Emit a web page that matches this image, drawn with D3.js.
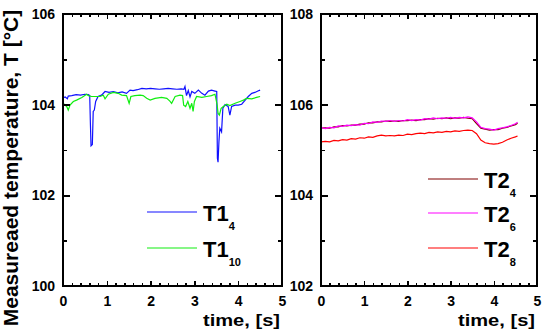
<!DOCTYPE html>
<html>
<head>
<meta charset="utf-8">
<script src="https://cdn.jsdelivr.net/npm/d3@7/dist/d3.min.js"></script>
<style>
  html, body { margin: 0; padding: 0; background: #fff; }
  svg { display: block; }
  text { font-family: "Liberation Sans", Arial, sans-serif; font-weight: bold; fill: #000; }
</style>
</head>
<body>
<svg id="chart" width="546" height="334"></svg>
<script>
// ---- Left panel: T1 sensors ----
const t14Time = [0, 0.05, 0.1, 0.12, 0.2, 0.3, 0.4, 0.5, 0.58, 0.61, 0.625, 0.64, 0.67, 0.69, 0.715, 0.746, 0.8, 0.88, 0.96, 1.05, 1.15, 1.25, 1.35, 1.45, 1.53, 1.6, 1.7, 1.8, 1.9, 2.0, 2.1, 2.2, 2.3, 2.4, 2.5, 2.6, 2.7, 2.76, 2.785, 2.82, 2.86, 2.9, 2.94, 3.01, 3.09, 3.17, 3.24, 3.32, 3.39, 3.47, 3.51, 3.525, 3.54, 3.56, 3.58, 3.62, 3.65, 3.70, 3.77, 3.81, 3.85, 3.93, 4.0, 4.08, 4.16, 4.23, 4.31, 4.38, 4.45, 4.5];
const t14Temp = [104.15, 104.17, 104.13, 104.19, 104.2, 104.22, 104.21, 104.23, 104.22, 104.2, 103.6, 103.09, 103.12, 103.85, 103.88, 104.07, 104.18, 104.21, 104.29, 104.27, 104.29, 104.26, 104.28, 104.25, 104.32, 104.31, 104.33, 104.36, 104.35, 104.36, 104.35, 104.34, 104.35, 104.36, 104.35, 104.34, 104.35, 104.34, 104.40, 104.20, 104.31, 104.17, 104.29, 104.25, 104.32, 104.25, 104.21, 104.30, 104.32, 104.30, 104.29, 102.82, 102.73, 103.18, 103.48, 103.40, 103.92, 104.00, 103.96, 103.77, 103.96, 103.99, 103.99, 104.01, 104.10, 104.18, 104.25, 104.27, 104.30, 104.32];

const t110Time = [0, 0.084, 0.12, 0.16, 0.236, 0.31, 0.43, 0.54, 0.58, 0.65, 0.73, 0.845, 0.92, 0.96, 1.035, 1.15, 1.26, 1.34, 1.45, 1.51, 1.55, 1.64, 1.76, 1.83, 1.91, 1.99, 2.1, 2.25, 2.37, 2.44, 2.48, 2.56, 2.67, 2.73, 2.755, 2.8, 2.85, 2.9, 2.94, 2.97, 3.0, 3.05, 3.17, 3.28, 3.39, 3.47, 3.52, 3.54, 3.57, 3.61, 3.66, 3.74, 3.81, 3.93, 4.04, 4.12, 4.19, 4.31, 4.42, 4.5];
const t110Temp = [104.03, 103.96, 103.88, 103.99, 104.07, 104.10, 104.16, 104.23, 104.20, 104.18, 104.18, 104.18, 104.21, 104.13, 104.23, 104.27, 104.25, 104.21, 104.20, 104.03, 104.18, 104.20, 104.21, 104.20, 104.14, 104.10, 104.14, 104.16, 104.14, 104.08, 104.03, 104.18, 104.21, 104.20, 103.99, 103.96, 104.07, 103.92, 104.03, 103.85, 104.07, 104.18, 104.16, 104.18, 104.20, 104.23, 103.99, 103.81, 103.77, 103.92, 103.96, 104.01, 103.98, 104.03, 104.07, 104.10, 104.14, 104.13, 104.16, 104.18];

// ---- Right panel: T2 sensors (common sampling) ----
const t2Time = [0, 0.1, 0.2, 0.3, 0.4, 0.5, 0.6, 0.7, 0.8, 0.9, 1.0, 1.1, 1.2, 1.3, 1.4, 1.5, 1.6, 1.7, 1.8, 1.9, 2.0, 2.1, 2.2, 2.3, 2.4, 2.5, 2.6, 2.7, 2.8, 2.9, 3.0, 3.1, 3.2, 3.3, 3.4, 3.5, 3.6, 3.7, 3.8, 3.9, 4.0, 4.1, 4.2, 4.3, 4.4, 4.5, 4.55];
const t24Temp = [105.49, 105.49, 105.48, 105.51, 105.51, 105.54, 105.53, 105.55, 105.55, 105.57, 105.57, 105.60, 105.60, 105.62, 105.62, 105.64, 105.63, 105.64, 105.63, 105.65, 105.65, 105.66, 105.65, 105.67, 105.67, 105.69, 105.68, 105.70, 105.69, 105.71, 105.69, 105.71, 105.70, 105.72, 105.70, 105.69, 105.58, 105.48, 105.46, 105.44, 105.45, 105.45, 105.48, 105.50, 105.53, 105.56, 105.59];
const t26Temp = [105.50, 105.47, 105.50, 105.49, 105.53, 105.52, 105.55, 105.54, 105.56, 105.55, 105.59, 105.58, 105.62, 105.61, 105.64, 105.63, 105.65, 105.63, 105.65, 105.64, 105.67, 105.65, 105.67, 105.66, 105.69, 105.68, 105.71, 105.69, 105.71, 105.70, 105.72, 105.70, 105.72, 105.71, 105.73, 105.71, 105.62, 105.50, 105.47, 105.46, 105.44, 105.47, 105.49, 105.51, 105.54, 105.58, 105.61];
const t28Temp = [105.18, 105.19, 105.18, 105.21, 105.20, 105.23, 105.22, 105.25, 105.24, 105.27, 105.26, 105.29, 105.28, 105.31, 105.33, 105.31, 105.32, 105.31, 105.33, 105.32, 105.35, 105.34, 105.36, 105.37, 105.36, 105.39, 105.38, 105.40, 105.39, 105.41, 105.40, 105.42, 105.41, 105.43, 105.44, 105.43, 105.36, 105.22, 105.16, 105.14, 105.13, 105.14, 105.17, 105.22, 105.26, 105.29, 105.31];

// ---- Axis ticks and labels ----
const xMajor = [0, 1, 2, 3, 4, 5];
const xMinor = [0.2, 0.4, 0.6, 0.8, 1.2, 1.4, 1.6, 1.8, 2.2, 2.4, 2.6, 2.8, 3.2, 3.4, 3.6, 3.8, 4.2, 4.4, 4.6, 4.8];
const yLeftMajor = [100, 102, 104, 106];
const yLeftMinor = [101, 103, 105];
const yRightMajor = [102, 104, 106, 108];
const yRightMinor = [103, 105, 107];

const xTitle = "time, [s]";
const yTitle = "Measureaed temperature, T [°C]";

// Legend entries: base name and subscript
const leftNames = [["T1", "4"], ["T1", "10"]];
const rightNames = [["T2", "4"], ["T2", "6"], ["T2", "8"]];
const leftColors = ["#1010ff", "#10ee10"];
const rightColors = ["#800000", "#ff00ff", "#ff0000"];

const svg = d3.select("#chart");

function panel(opts) {
  const { x0, x1, y0, y1, yDomain, yMajor, yMinor, series, names, colors, legend } = opts;
  const g = svg.append("g");
  const x = d3.scaleLinear().domain([0, 5]).range([x0, x1]);
  const y = d3.scaleLinear().domain(yDomain).range([y1, y0]);

  // data lines
  const line = d3.line().x(d => x(d[0])).y(d => y(d[1]));
  series.forEach((s, i) => {
    const pts = s.time.map((t, k) => [t, s.temp[k]]);
    g.append("path").datum(pts)
      .attr("d", line)
      .attr("fill", "none")
      .attr("stroke", colors[i])
      .attr("stroke-width", 1.2);
  });

  // axes: bottom with labels, inward ticks on all four sides
  g.append("g").attr("transform", `translate(0,${y1})`)
    .call(d3.axisBottom(x).tickValues(xMajor).tickSize(-5).tickPadding(10).tickFormat(d3.format("d")));
  g.append("g").attr("transform", `translate(0,${y1})`)
    .call(d3.axisBottom(x).tickValues(xMinor).tickSize(-3).tickFormat(""));
  g.append("g").attr("transform", `translate(0,${y0})`)
    .call(d3.axisTop(x).tickValues(xMajor).tickSize(-5).tickFormat(""));
  g.append("g").attr("transform", `translate(0,${y0})`)
    .call(d3.axisTop(x).tickValues(xMinor).tickSize(-3).tickFormat(""));
  g.append("g").attr("transform", `translate(${x0},0)`)
    .call(d3.axisLeft(y).tickValues(yMajor).tickSize(-7).tickPadding(8).tickFormat(d3.format("d")));
  g.append("g").attr("transform", `translate(${x0},0)`)
    .call(d3.axisLeft(y).tickValues(yMinor).tickSize(-4).tickFormat(""));
  g.append("g").attr("transform", `translate(${x1},0)`)
    .call(d3.axisRight(y).tickValues(yMajor).tickSize(-7).tickFormat(""));
  g.append("g").attr("transform", `translate(${x1},0)`)
    .call(d3.axisRight(y).tickValues(yMinor).tickSize(-4).tickFormat(""));

  g.selectAll(".domain").remove();
  g.selectAll(".tick line").attr("stroke", "#000").attr("stroke-width", 1.5).attr("shape-rendering", "crispEdges");
  g.selectAll(".tick text").style("font-size", "14px").style("font-family", "'Liberation Sans', Arial, sans-serif").style("font-weight", "bold").attr("fill", "#000");

  // frame
  g.append("rect").attr("x", x0).attr("y", y0).attr("width", x1 - x0).attr("height", y1 - y0)
    .attr("fill", "none").attr("stroke", "#000").attr("stroke-width", 2).attr("shape-rendering", "crispEdges");

  // x-axis title
  g.append("text").attr("x", x1 - 2).attr("y", 326).attr("text-anchor", "end")
    .style("font-size", "17px").attr("textLength", 77).attr("lengthAdjust", "spacingAndGlyphs")
    .text(xTitle);

  // legend
  names.forEach((n, i) => {
    const ly = legend.y[i];
    g.append("line").attr("x1", legend.x).attr("x2", legend.x + 50)
      .attr("y1", ly).attr("y2", ly).attr("stroke", colors[i]).attr("stroke-width", 1.2);
    const t = g.append("text").attr("x", legend.x + 56).attr("y", ly + 8.5).style("font-size", "22px");
    t.append("tspan").text(n[0]);
    t.append("tspan").attr("dy", 9).style("font-size", "11px").text(n[1]);
  });
}

panel({
  x0: 63, x1: 282, y0: 14, y1: 286,
  yDomain: [100, 106], yMajor: yLeftMajor, yMinor: yLeftMinor,
  series: [{ time: t14Time, temp: t14Temp }, { time: t110Time, temp: t110Temp }],
  names: leftNames, colors: leftColors,
  legend: { x: 147, y: [212, 248] }
});

panel({
  x0: 321, x1: 537, y0: 14, y1: 286,
  yDomain: [102, 108], yMajor: yRightMajor, yMinor: yRightMinor,
  series: [{ time: t2Time, temp: t24Temp }, { time: t2Time, temp: t26Temp }, { time: t2Time, temp: t28Temp }],
  names: rightNames, colors: rightColors,
  legend: { x: 428, y: [179, 213, 248] }
});

// shared y-axis title
svg.append("text")
  .attr("transform", "translate(18,168) rotate(-90)")
  .attr("text-anchor", "middle")
  .style("font-size", "21px")
  .text(yTitle);
</script>
</body>
</html>
